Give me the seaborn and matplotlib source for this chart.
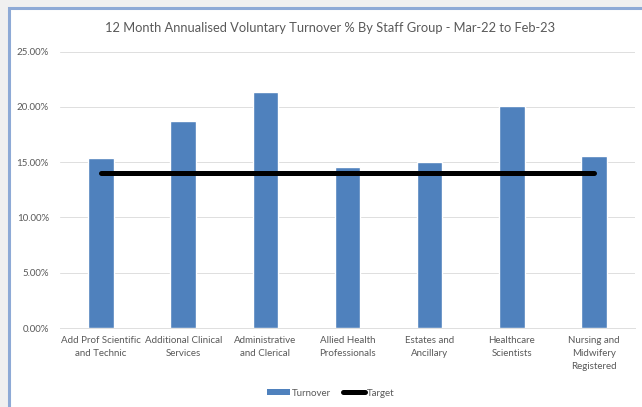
import matplotlib
matplotlib.use("Agg")
import matplotlib.pyplot as plt
from matplotlib.patches import Rectangle, Patch
from matplotlib.lines import Line2D
from matplotlib.ticker import FuncFormatter, MultipleLocator
import seaborn as sns
import pandas as pd

staff_groups = [
    "Add Prof Scientific\nand Technic",
    "Additional Clinical\nServices",
    "Administrative\nand Clerical",
    "Allied Health\nProfessionals",
    "Estates and\nAncillary",
    "Healthcare\nScientists",
    "Nursing and\nMidwifery\nRegistered",
]
turnover_pct = [15.35, 18.75, 21.3, 14.55, 15.05, 20.1, 15.55]
target_pct = [14.0, 14.0, 14.0, 14.0, 14.0, 14.0, 14.0]

title = "12 Month Annualised Voluntary Turnover % By Staff Group - Mar-22 to Feb-23"

sns.set_theme(style="white")
plt.rcParams["font.family"] = ["Lato", "DejaVu Sans"]

text_grey = "#595959"
bar_blue = "#4f81bd"
grid_grey = "#dedede"

W, H = 642, 407
fig = plt.figure(figsize=(W / 100, H / 100), dpi=100, facecolor="#f0f0f0")

# white chart panel with a light blue frame, kept behind the axes
panel = Rectangle((9 / W, -0.05), 1.1, (H - 8) / H + 0.05, transform=fig.transFigure,
                  facecolor="white", edgecolor="#8eaad6", linewidth=2.2, zorder=-10)
fig.patches.append(panel)

ax = fig.add_axes([60 / W, (H - 328) / H, (635 - 60) / W, (328 - 51.5) / H])
ax.set_facecolor("none")

df = pd.DataFrame({"group": staff_groups, "turnover": turnover_pct, "target": target_pct})

sns.barplot(data=df, x="group", y="turnover", color=bar_blue, width=0.31,
            saturation=1, ax=ax, zorder=3)
ax.plot(range(len(df)), df["target"], color="black", linewidth=3.6,
        solid_capstyle="round", zorder=4)

ax.set_xlim(-0.5, len(df) - 0.5)
ax.set_ylim(0, 25)
ax.yaxis.set_major_locator(MultipleLocator(5))
ax.yaxis.set_major_formatter(FuncFormatter(lambda v, _: f"{v:.2f}%"))
ax.grid(axis="y", color=grid_grey, linewidth=0.7, zorder=0)
ax.set_axisbelow(True)

for side in ["top", "right", "left"]:
    ax.spines[side].set_visible(False)
ax.spines["bottom"].set_color(grid_grey)
ax.spines["bottom"].set_linewidth(0.7)

ax.set_xlabel("")
ax.set_ylabel("")
ax.tick_params(axis="both", length=0, colors=text_grey, labelsize=7)
ax.tick_params(axis="y", pad=8)
ax.tick_params(axis="x", pad=6)
for lbl in ax.get_xticklabels():
    lbl.set_linespacing(1.55)

fig.text(330 / W, 1 - 28 / H, title, ha="center", va="center",
         fontsize=9.3, color=text_grey)

handles = [Patch(facecolor=bar_blue, edgecolor="none"),
           Line2D([0], [0], color="black", linewidth=3.6, solid_capstyle="round")]
fig.legend(handles, ["Turnover", "Target"], loc="center", ncol=2,
           bbox_to_anchor=(331 / W, 1 - 393 / H), frameon=False, fontsize=7,
           labelcolor=text_grey, handlelength=2.3, handletextpad=0.2,
           columnspacing=1.2, handleheight=0.6)

fig.savefig("out.png", dpi=100, facecolor=fig.get_facecolor())
